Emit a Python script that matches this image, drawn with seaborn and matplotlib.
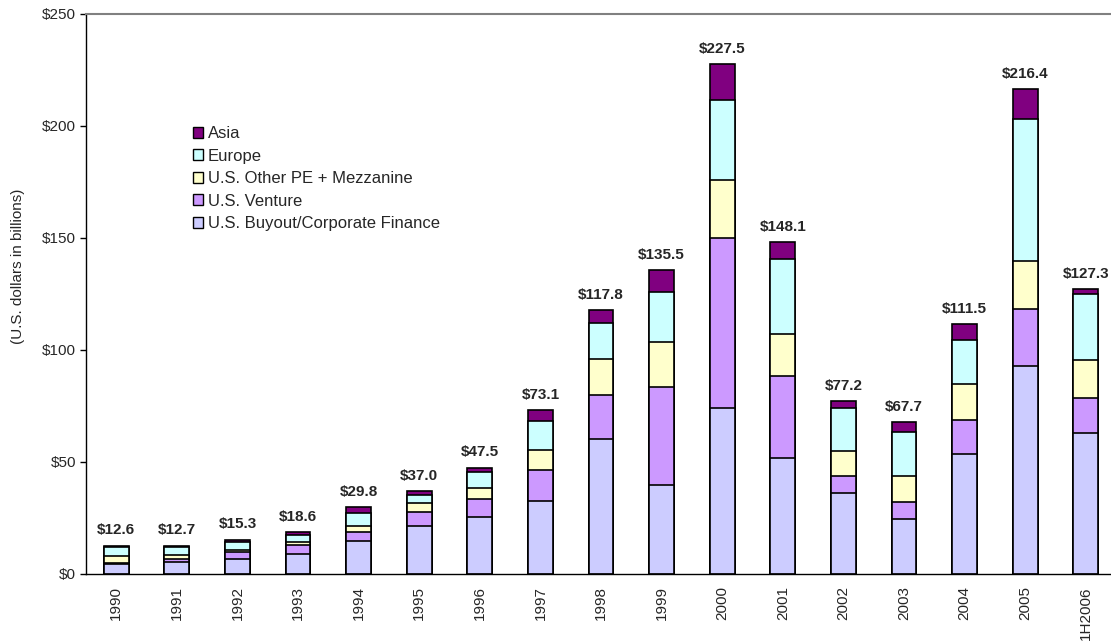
import numpy as np
import pandas as pd
import matplotlib
matplotlib.use("Agg")
import matplotlib.pyplot as plt
from matplotlib.patches import Patch
from matplotlib.ticker import FixedLocator
import seaborn as sns

sns.set_style("white")
plt.rcParams["font.family"] = ["Liberation Sans", "DejaVu Sans"]

# data (US$ billions)
years = ["1990", "1991", "1992", "1993", "1994", "1995", "1996", "1997", "1998",
         "1999", "2000", "2001", "2002", "2003", "2004", "2005", "1H2006"]
buyout = [4.6, 5.2, 6.7, 8.9, 14.9, 21.6, 25.6, 32.4, 60.1, 39.6, 73.9, 51.9, 36.0, 24.6, 53.6, 92.7, 63.1]
venture = [0.2, 1.6, 3.0, 3.9, 4.0, 6.2, 8.0, 14.0, 20.0, 43.7, 76.2, 36.3, 7.6, 7.7, 15.0, 25.4, 15.6]
other_pe = [3.3, 1.6, 1.0, 1.6, 2.5, 3.7, 4.8, 9.0, 15.9, 20.4, 25.8, 19.1, 11.4, 11.4, 16.1, 21.5, 16.7]
europe = [3.9, 3.5, 3.6, 3.2, 6.0, 3.8, 7.1, 12.9, 16.2, 22.2, 35.7, 33.5, 19.2, 19.9, 19.7, 63.6, 29.7]
asia = [0.6, 0.8, 1.0, 1.0, 2.4, 1.7, 2.0, 4.8, 5.6, 9.6, 15.9, 7.3, 3.0, 4.1, 7.1, 13.2, 2.2]
totals = [12.6, 12.7, 15.3, 18.6, 29.8, 37.0, 47.5, 73.1, 117.8, 135.5, 227.5,
          148.1, 77.2, 67.7, 111.5, 216.4, 127.3]

series_names = ["U.S. Buyout/Corporate Finance", "U.S. Venture",
                "U.S. Other PE + Mezzanine", "Europe", "Asia"]
colors = ["#CCCCFF", "#CC99FF", "#FFFFCC", "#CCFFFF", "#800080"]

df = pd.DataFrame({"year": years, series_names[0]: buyout, series_names[1]: venture,
                   series_names[2]: other_pe, series_names[3]: europe, series_names[4]: asia})
cum = df[series_names].cumsum(axis=1)

fig = plt.figure(figsize=(11.11, 6.43), dpi=100)
ax = fig.add_axes([86 / 1111, 69 / 643, 1030 / 1111, 560 / 643])

# stacked bars: draw cumulative heights from the top layer down
for name, col in reversed(list(zip(series_names, colors))):
    sns.barplot(x=df["year"], y=cum[name], order=years, color=col, saturation=1,
                width=0.41, edgecolor="black", linewidth=1.2, errorbar=None, ax=ax)

for i, t in enumerate(totals):
    ax.annotate(rf"\${t:.1f}", xy=(i, t), xytext=(0, 6), textcoords="offset points",
                ha="center", va="bottom", fontsize=11, fontweight="bold")

ax.set_xlim(-0.5, 16.5)
ax.set_ylim(0, 250)
ax.set_yticks(range(0, 251, 50))
ax.set_yticklabels([rf"\${v}" for v in range(0, 251, 50)], fontsize=11)
ax.set_xticks(range(len(years)))
ax.set_xticklabels(years, rotation=90, fontsize=11)
ax.xaxis.set_minor_locator(FixedLocator(np.arange(-0.5, 17, 1)))
ax.tick_params(axis="x", which="major", length=0, pad=9)
ax.tick_params(axis="x", which="minor", length=5, width=1, color="black", direction="out")
ax.tick_params(axis="y", length=4, width=1, color="black", direction="out", left=True, pad=3)

ax.set_xlabel("")
ax.set_ylabel("(U.S. dollars in billions)", fontsize=11)
ax.yaxis.set_label_coords(-0.059, 0.55)

for s in ["left", "bottom"]:
    ax.spines[s].set_color("black")
    ax.spines[s].set_linewidth(1)
ax.spines["top"].set_color("#808080")
ax.spines["top"].set_linewidth(1.5)
ax.spines["right"].set_visible(False)

handles = [Patch(facecolor=c, edgecolor="black", linewidth=1, label=n)
           for n, c in zip(series_names, colors)][::-1]
ax.legend(handles=handles, loc="upper left", bbox_to_anchor=(0.104, 0.80), frameon=False,
          fontsize=12, handlelength=0.62, handleheight=0.62, handletextpad=0.25,
          labelspacing=0.45, borderpad=0, borderaxespad=0)

fig.savefig("out.png", dpi=100)
